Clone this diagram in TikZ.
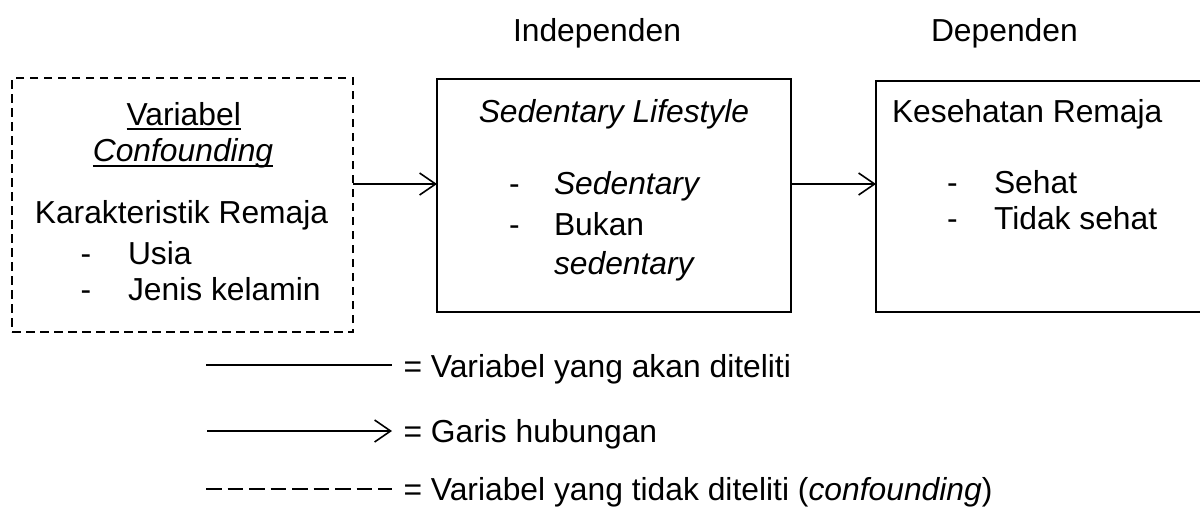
\documentclass[tikz,border=0pt]{standalone}
\usepackage{fontspec}
\setmainfont{Liberation Sans}
\usetikzlibrary{arrows.meta}
\tikzset{
  txt/.style={inner sep=0pt, outer sep=0pt, font=\fontsize{31.8pt}{36.5pt}\selectfont},
  lt/.style={txt, anchor=base west},
  ct/.style={txt, anchor=base},
  box/.style={draw=black, line width=1.8pt, inner sep=0pt, outer sep=0pt, anchor=north west},
  dbox/.style={box, dash pattern=on 8.5pt off 5.5pt},
  arr/.style={line width=1.6pt, -{Straight Barb[length=16pt,width=22pt,line width=1.6pt]}},
  leg/.style={line width=1.6pt},
  legdash/.style={leg, dash pattern=on 15.5pt off 6pt},
  uline/.style={line width=2pt},
}
\begin{document}
\begin{tikzpicture}[x=1pt,y=-1pt]
\useasboundingbox (0,0) rectangle (1200,509);
\clip (0,0) rectangle (1200,509);

% headers
\node[lt] (hind) at (513,41) {Independen};
\node[lt] (hdep) at (931,41) {Dependen};

% boxes
\node[dbox, minimum width=341pt, minimum height=254pt] (cf) at (12,78) {};
\node[box, minimum width=354pt, minimum height=233pt] (sl) at (437,79) {};
\node[box, minimum width=345pt, minimum height=231pt] (kr) at (876,81) {};

% left box text
\node[ct] (v1) at (183.7,125) {Variabel};
\node[ct] (v2) at (183,161.5) {\itshape Confounding};
\draw[uline] ([yshift=-4pt]v1.base west) -- ([yshift=-4pt]v1.base east);
\draw[uline] ([yshift=-4pt]v2.base west) -- ([yshift=-4pt]v2.base east);
\node[ct] (kar) at (181.5,223) {Karakteristik Remaja};
\node[lt] (d1) at (80.5,264) {-};
\node[lt] (usia) at (128,264) {Usia};
\node[lt] (d2) at (80.5,300) {-};
\node[lt] (jk) at (128,300) {Jenis kelamin};

% middle box text
\node[ct] (slt) at (614,122) {\itshape Sedentary Lifestyle};
\node[lt] (d3) at (509,194) {-};
\node[lt] (sed) at (554,194) {\itshape Sedentary};
\node[lt] (d4) at (509,235) {-};
\node[lt] (bk) at (554,235) {Bukan};
\node[lt] (bk2) at (554,274) {\itshape sedentary};

% right box text
\node[lt] (krt) at (892,122) {Kesehatan Remaja};
\node[lt] (d5) at (947,193) {-};
\node[lt] (sh) at (994,193) {Sehat};
\node[lt] (d6) at (947,229) {-};
\node[lt] (ts) at (994,229) {Tidak sehat};

% connectors
\coordinate (ay) at (0,184);
\draw[arr] (cf.east |- ay) -- (sl.west |- ay);
\draw[arr] (sl.east |- ay) -- (kr.west |- ay);

% legend
\coordinate (l1a) at (206,365);
\coordinate (l1b) at (392,365);
\draw[leg] (l1a) -- (l1b);
\node[lt] (t1) at (403.5,377) {= Variabel yang akan diteliti};

\coordinate (l2a) at (207,431);
\coordinate (l2b) at (392,431);
\draw[arr] (l2a) -- (l2b);
\node[lt] (t2) at (403.5,442) {= Garis hubungan};

\coordinate (l3a) at (206,489);
\coordinate (l3b) at (392,489);
\draw[legdash] (l3a) -- (l3b);
\node[lt] (t3) at (403.5,500) {= Variabel yang tidak diteliti (\textit{confounding})};
\end{tikzpicture}
\end{document}
